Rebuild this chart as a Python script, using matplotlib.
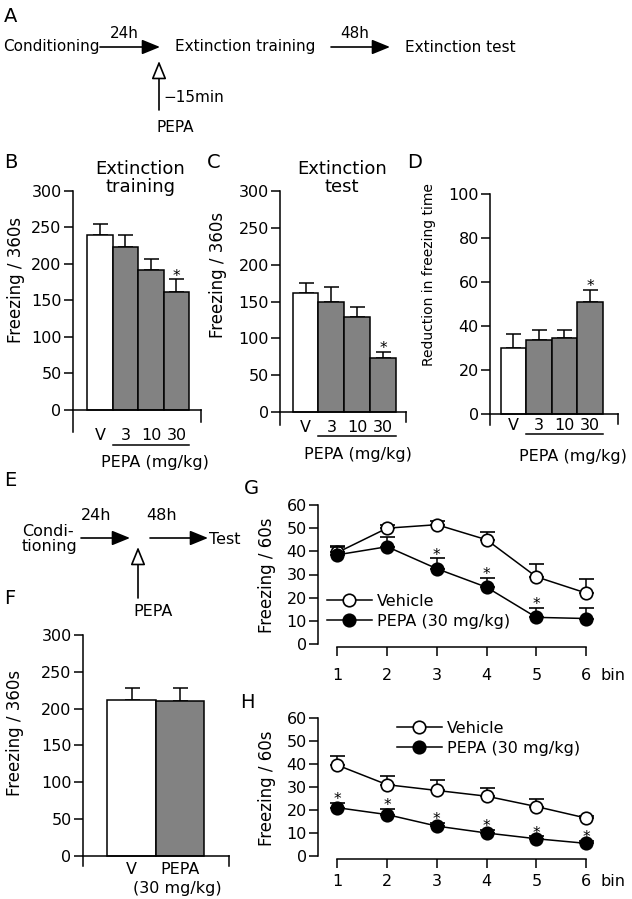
import numpy as np
import matplotlib
matplotlib.use("Agg")
import matplotlib.pyplot as plt
from matplotlib.lines import Line2D
from matplotlib.patches import FancyArrowPatch
import matplotlib.transforms as mtrans

plt.rcParams['font.family'] = ['DejaVu Sans']

# ---------------- data ----------------
dose_labels = ['V', '3', '10', '30']
B_vals = [239, 223, 191, 162]
B_err = [16, 16, 16, 17]
C_vals = [161, 150, 129, 74]
C_err = [14, 19, 13, 8]
D_vals = [30, 33.5, 34.5, 51]
D_err = [6.5, 4.5, 3.5, 5.5]
F_labels = ['V', 'PEPA']
F_vals = [212, 210]
F_err = [16, 18]
bins = [1, 2, 3, 4, 5, 6]
G_veh = [39.5, 50, 51.5, 45, 29, 22]
G_veh_err = [3, 1.5, 1.5, 3.5, 5.5, 6]
G_pepa = [38.5, 42, 32.5, 24.5, 11.5, 11]
G_pepa_err = [3.5, 4, 4.5, 4, 4, 4.5]
G_sig = [3, 4, 5]
H_veh = [39.5, 31, 28.5, 26, 21.5, 16.5]
H_veh_err = [4, 4, 4.5, 3.5, 3.5, 1]
H_pepa = [21, 18, 13, 10, 7.5, 5.5]
H_pepa_err = [2, 2.5, 1.5, 1.5, 1, 1]
H_sig = [1, 2, 3, 4, 5, 6]

W, H = 632, 899
fig = plt.figure(figsize=(W / 100, H / 100), dpi=100)

ov = fig.add_axes([0, 0, 1, 1])
ov.set_xlim(0, W)
ov.set_ylim(H, 0)
ov.axis('off')

GRAY = '#828282'
LW = 1.1
TFS = 11.5


def axes_px(x0, x1, ytop, ybot):
    a = fig.add_axes([x0 / W, 1 - ybot / H, (x1 - x0) / W, (ybot - ytop) / H])
    a.patch.set_alpha(0)
    return a


def T(text, x, y, **kw):
    kw.setdefault('fontsize', 11)
    kw.setdefault('va', 'center')
    ov.text(x, y, text, **kw)


def arrow(x0, y0, x1, y1, fc='k'):
    p = FancyArrowPatch((x0, y0), (x1, y1),
                        arrowstyle='-|>,head_length=11,head_width=4.5',
                        mutation_scale=1, lw=1.2, color='k', fc=fc,
                        shrinkA=0, shrinkB=0, transform=ov.transData)
    ov.add_patch(p)


def bar_panel(x0, x1, ytop, yzero, ybot, ymax, vals, errs, labels, xlim,
              yticks, rtick_px, lab_y, sig=None):
    ppu = (yzero - ytop) / ymax
    ymin = -(ybot - yzero) / ppu
    ax = axes_px(x0, x1, ytop, ybot)
    ax.set_xlim(*xlim)
    ax.set_ylim(ymin, ymax)
    x = np.arange(len(vals))
    colors = ['white'] + [GRAY] * (len(vals) - 1)
    ax.bar(x, vals, width=1, color=colors, edgecolor='k', lw=LW, zorder=2)
    ax.errorbar(x, vals, yerr=[np.zeros(len(vals)), errs], fmt='none',
                ecolor='k', elinewidth=LW, capsize=5.4, capthick=LW, zorder=1)
    for s in ['top', 'right', 'bottom']:
        ax.spines[s].set_visible(False)
    ax.spines['left'].set_linewidth(LW)
    ax.set_yticks(yticks)
    ax.set_xticks([])
    ax.tick_params(axis='y', direction='out', length=6.5, width=LW,
                   labelsize=TFS, pad=1.5)
    ax.plot(xlim, [0, 0], color='k', lw=LW, clip_on=False)
    ax.plot([xlim[1], xlim[1]], [0, -rtick_px / ppu], color='k', lw=LW,
            clip_on=False)
    tr = mtrans.blended_transform_factory(ax.transData, ov.transData)
    for i, l in enumerate(labels):
        ax.text(i, lab_y, l, transform=tr, ha='center', va='center',
                fontsize=TFS)
    if sig is not None:
        for i in sig:
            ax.annotate('*', xy=(i, vals[i] + errs[i]), xytext=(0, -1),
                        textcoords='offset points', ha='center',
                        va='baseline', fontsize=11)
    return ax, tr


# ---------------- Panel A ----------------
T('A', 4, 16, fontsize=14)
T('Conditioning', 3, 47)
T('24h', 124, 33, ha='center')
arrow(100, 47, 160, 47)
T('Extinction training', 175, 47)
T('48h', 355, 33, ha='center')
arrow(331, 47, 390, 47)
T('Extinction test', 405, 47)
arrow(159, 110, 159, 61, fc='white')
T('\u221215min', 163, 97)
T('PEPA', 156, 127)

# ---------------- Panel B ----------------
T('B', 4, 162, fontsize=14)
T('Extinction\ntraining', 140, 178, ha='center', fontsize=13, linespacing=1.05)
axB, trB = bar_panel(72.7, 200.7, 190.7, 410, 432, 300, B_vals, B_err,
                     dose_labels, (-1.07, 3.95), range(0, 301, 50), 12, 435,
                     sig=[3])
axB.plot([0.5, 3.5], [445, 445], transform=trB, color='k', lw=LW,
         clip_on=False)
T('PEPA (mg/kg)', 155, 462, ha='center', fontsize=TFS)
T('Freezing / 360s', 16, 280, ha='center', rotation=90, fontsize=12)

# ---------------- Panel C ----------------
T('C', 207, 162, fontsize=14)
T('Extinction\ntest', 342, 178, ha='center', fontsize=13, linespacing=1.05)
axC, trC = bar_panel(280, 405.7, 190.7, 412.3, 425, 300, C_vals, C_err,
                     dose_labels, (-0.99, 3.88), range(0, 301, 50), 10, 428,
                     sig=[3])
axC.plot([0.5, 3.5], [436, 436], transform=trC, color='k', lw=LW,
         clip_on=False)
T('PEPA (mg/kg)', 358, 454, ha='center', fontsize=TFS)
T('Freezing / 360s', 218, 275, ha='center', rotation=90, fontsize=12)

# ---------------- Panel D ----------------
T('D', 407, 162, fontsize=14)
axD, trD = bar_panel(490, 618, 194, 414, 425, 100, D_vals, D_err,
                     dose_labels, (-0.92, 4.1), range(0, 101, 20), 10, 426,
                     sig=[3])
axD.plot([0.5, 3.5], [434, 434], transform=trD, color='k', lw=LW,
         clip_on=False)
T('PEPA (mg/kg)', 573, 456, ha='center', fontsize=TFS)
T('Reduction in freezing time', 429, 275, ha='center', rotation=90,
  fontsize=10)

# ---------------- Panel E ----------------
T('E', 4, 481, fontsize=14)
T('Condi-\ntioning', 22, 539, fontsize=11.5, linespacing=1.0)
T('24h', 96, 516, ha='center', fontsize=11.5)
arrow(81, 538, 130, 538)
T('48h', 162, 516, ha='center', fontsize=11.5)
arrow(150, 538, 208, 538)
T('Test', 209, 539, fontsize=11.5)
arrow(138, 598, 138, 547, fc='white')
T('PEPA', 133, 611, fontsize=11.5)

# ---------------- Panel F ----------------
T('F', 4, 598, fontsize=14)
axF, trF = bar_panel(82.7, 229.3, 635, 855.7, 866, 300, F_vals, F_err,
                     F_labels, (-1.01, 2.02), range(0, 301, 50), 10, 870)
T('(30 mg/kg)', 177, 888, ha='center', fontsize=TFS)
T('Freezing / 360s', 15, 733, ha='center', rotation=90, fontsize=12)


# ---------------- Line panels ----------------
def line_panel(ytop, ybot, veh, veh_err, pep, pep_err, sig, lab_y, leg_xy):
    ax = axes_px(318, 600, ytop, ybot)
    ax.set_xlim(0.61, 6.28)
    ax.set_ylim(0, 60)
    for s in ['top', 'right']:
        ax.spines[s].set_visible(False)
    ax.spines['left'].set_bounds(0, 60)
    ax.spines['bottom'].set_bounds(1, 6)
    ax.spines['bottom'].set_position(('outward', 2.2))
    for s in ['left', 'bottom']:
        ax.spines[s].set_linewidth(LW)
    ax.set_yticks(range(0, 61, 10))
    ax.set_xticks(bins)
    ax.set_xticklabels([])
    ax.tick_params(axis='y', direction='out', length=6.5, width=LW,
                   labelsize=TFS, pad=1.5)
    ax.tick_params(axis='x', direction='out', length=6.5, width=LW)
    ax.errorbar(bins, veh, yerr=[np.zeros(6), veh_err], fmt='-o', color='k',
                mfc='white', mec='k', ms=9, mew=1.2, lw=LW, capsize=5.4,
                capthick=LW, clip_on=False, zorder=3)
    ax.errorbar(bins, pep, yerr=[np.zeros(6), pep_err], fmt='-o', color='k',
                mfc='k', mec='k', ms=9, mew=1.2, lw=LW, capsize=5.4,
                capthick=LW, clip_on=False, zorder=4)
    for b in sig:
        i = b - 1
        ax.annotate('*', xy=(b, pep[i] + pep_err[i]), xytext=(0, -1),
                    textcoords='offset points', ha='center', va='baseline',
                    fontsize=11, zorder=5)
    tr = mtrans.blended_transform_factory(ax.transData, ov.transData)
    for b in bins:
        ax.text(b, lab_y, str(b), transform=tr, ha='center', va='center',
                fontsize=TFS)
    ax.text(6.28, lab_y, 'bin', transform=tr, ha='left', va='center',
            fontsize=TFS)
    handles = [Line2D([], [], color='k', marker='o', mfc='white', mec='k',
                      ms=9, mew=1.2, lw=LW),
               Line2D([], [], color='k', marker='o', mfc='k', mec='k',
                      ms=9, mew=1.2, lw=LW)]
    ax.legend(handles, ['Vehicle', 'PEPA (30 mg/kg)'], loc='upper left',
              bbox_to_anchor=(leg_xy[0] / W, 1 - leg_xy[1] / H),
              bbox_transform=fig.transFigure, frameon=False, fontsize=TFS,
              handlelength=2.8, handletextpad=0.3, labelspacing=0.3,
              borderpad=0, borderaxespad=0, numpoints=1)
    return ax


T('G', 244, 488, fontsize=14)
line_panel(505, 644, G_veh, G_veh_err, G_pepa, G_pepa_err, G_sig, 675,
           (327, 594))
T('Freezing / 60s', 267, 575, ha='center', rotation=90, fontsize=12)

T('H', 240, 702, fontsize=14)
line_panel(718, 856, H_veh, H_veh_err, H_pepa, H_pepa_err, H_sig, 882,
           (397, 721))
T('Freezing / 60s', 267, 788, ha='center', rotation=90, fontsize=12)

fig.savefig('out.png', dpi=100)
